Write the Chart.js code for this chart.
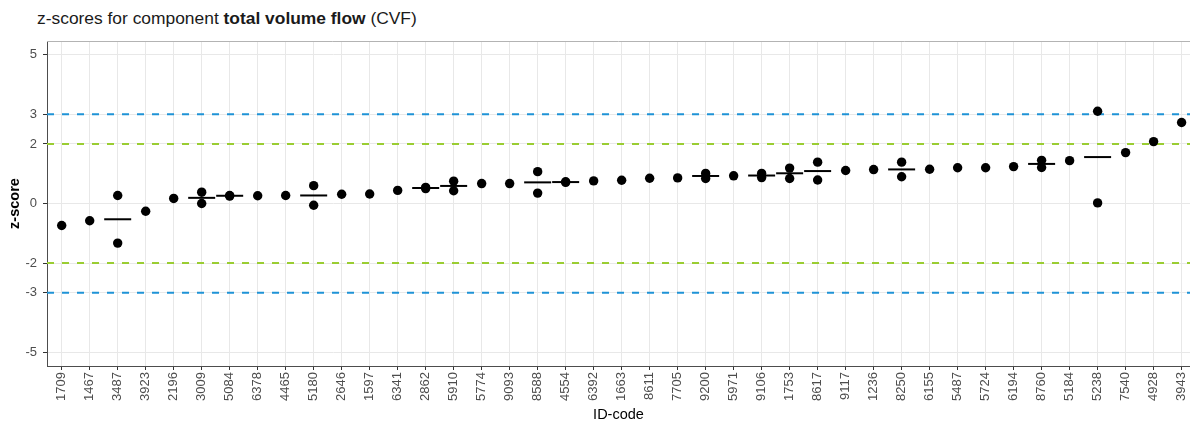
<!DOCTYPE html>
<html>
<head>
<meta charset="utf-8">
<script src="https://cdn.jsdelivr.net/npm/chart.js@4.4.0/dist/chart.umd.min.js"></script>
<style>
  html, body { margin: 0; padding: 0; background: #fff; overflow: hidden; }
  #wrap { position: relative; width: 1190px; height: 426px; }
  #title { position: absolute; left: 37px; top: 8px; font: 17.4px 'Liberation Sans', Arial, sans-serif; line-height: 20px; color: #1a1a1a; white-space: nowrap; }
  canvas { position: absolute; left: 0; top: 0; }
</style>
</head>
<body>
<div id="wrap">
  <div id="title">z-scores for component <b>total volume flow</b> (CVF)</div>
  <canvas id="chart" width="1190" height="426"></canvas>
</div>
<script>
// ID-codes, sorted by mean z-score
var ids = ['1709','1467','3487','3923','2196','3009','5084','6378','4465','5180',
           '2646','1597','6341','2862','5910','5774','9093','8588','4554','6392',
           '1663','8611','7705','9200','5971','9106','1753','8617','9117','1236',
           '8250','6155','5487','5724','6194','8760','5184','5238','7540','4928','3943'];

// first measurement per lab
var zFirst = [-0.74,-0.58, 0.27,-0.26, 0.17, 0.38, 0.27, 0.26, 0.27, 0.60,
               0.31, 0.32, 0.44, 0.54, 0.75, 0.67, 0.67, 1.07, 0.73, 0.76,
               0.78, 0.85, 0.86, 1.01, 0.93, 1.01, 1.19, 1.39, 1.11, 1.14,
               1.39, 1.15, 1.20, 1.20, 1.24, 1.45, 1.44, 3.10, 1.71, 2.08, 2.72];

// second measurement (null = only one)
var zSecond = [null,null,-1.33,null,null, 0.00, 0.25,null,null,-0.06,
               null,null,null, 0.50, 0.43,null,null, 0.35, 0.71,null,
               null,null,null, 0.84,null, 0.87, 0.84, 0.79,null,null,
               0.90,null,null,null,null, 1.21,null, 0.02,null,null,null];

var yTicks = [5, 3, 2, 0, -2, -3, -5];
var warnLimit = 2;   // green
var actionLimit = 3; // blue

var xMin = -0.525, xMax = 40.3;

var pts = [], means = [];
ids.forEach(function(id, i) {
  pts.push({ x: i, y: zFirst[i] });
  if (zSecond[i] !== null) {
    pts.push({ x: i, y: zSecond[i] });
    means.push({ x: i, y: (zFirst[i] + zSecond[i]) / 2 });
  }
});

function hLine(v) { return [{ x: xMin, y: v }, { x: xMax, y: v }]; }

var green = '#9acd32', blue = '#1f93d6';
var FONT = "'Liberation Sans', Arial, sans-serif";

var topBorder = {
  id: 'topBorder',
  afterDraw: function(chart) {
    var a = chart.chartArea, ctx = chart.ctx;
    ctx.save();
    ctx.strokeStyle = '#b3b3b3';
    ctx.lineWidth = 1;
    ctx.beginPath();
    ctx.moveTo(a.left, a.top + 0.5);
    ctx.lineTo(a.right, a.top + 0.5);
    ctx.stroke();
    ctx.restore();
  }
};

function refDs(v, color) {
  return {
    type: 'line', data: hLine(v), borderColor: color, borderWidth: 2,
    borderDash: [7, 8], pointRadius: 0, fill: false, order: 3
  };
}

new Chart(document.getElementById('chart'), {
  type: 'scatter',
  data: {
    datasets: [
      { data: pts, backgroundColor: '#000', borderWidth: 0, pointRadius: 4.7, order: 0 },
      { data: means, pointStyle: 'line', pointRadius: 13.5, borderColor: '#000',
        borderWidth: 2, backgroundColor: '#000', order: 1 },
      refDs(actionLimit, blue), refDs(-actionLimit, blue),
      refDs(warnLimit, green), refDs(-warnLimit, green)
    ]
  },
  plugins: [topBorder],
  options: {
    responsive: false,
    animation: false,
    devicePixelRatio: 1,
    layout: { autoPadding: false, padding: { top: 41, right: 0, left: 0, bottom: 0 } },
    plugins: { legend: { display: false }, tooltip: { enabled: false } },
    scales: {
      x: {
        type: 'linear', min: xMin, max: xMax,
        afterBuildTicks: function(ax) { ax.ticks = ids.map(function(d, i) { return { value: i }; }); },
        afterFit: function(ax) { ax.height = 60; ax.paddingLeft = 0; ax.paddingRight = 0; },
        ticks: {
          autoSkip: false, minRotation: 90, maxRotation: 90, padding: 2,
          color: '#4d4d4d', font: { family: FONT, size: 13 },
          callback: function(v) { return ids[v]; }
        },
        grid: { color: '#e8e8e8', lineWidth: 1, tickColor: '#333', tickLength: 4, tickWidth: 1 },
        border: { color: '#4d4d4d', width: 1 },
        title: { display: true, text: 'ID-code', color: '#000', font: { family: FONT, size: 14.5 },
                 padding: { top: 0, bottom: 2 } }
      },
      y: {
        min: -5.46, max: 5.46,
        afterBuildTicks: function(ax) { ax.ticks = yTicks.map(function(v) { return { value: v }; }); },
        afterFit: function(ax) { ax.width = 47; ax.paddingTop = 0; ax.paddingBottom = 0; },
        ticks: { color: '#4d4d4d', padding: 6, font: { family: FONT, size: 13 } },
        grid: { color: '#e8e8e8', lineWidth: 1, tickColor: '#333', tickLength: 4, tickWidth: 1 },
        border: { color: '#4d4d4d', width: 1 },
        title: { display: true, text: 'z-score', color: '#000', font: { family: FONT, size: 14.5, weight: 'bold' },
                 padding: { top: 6, bottom: 0 } }
      }
    }
  }
});
</script>
</body>
</html>
